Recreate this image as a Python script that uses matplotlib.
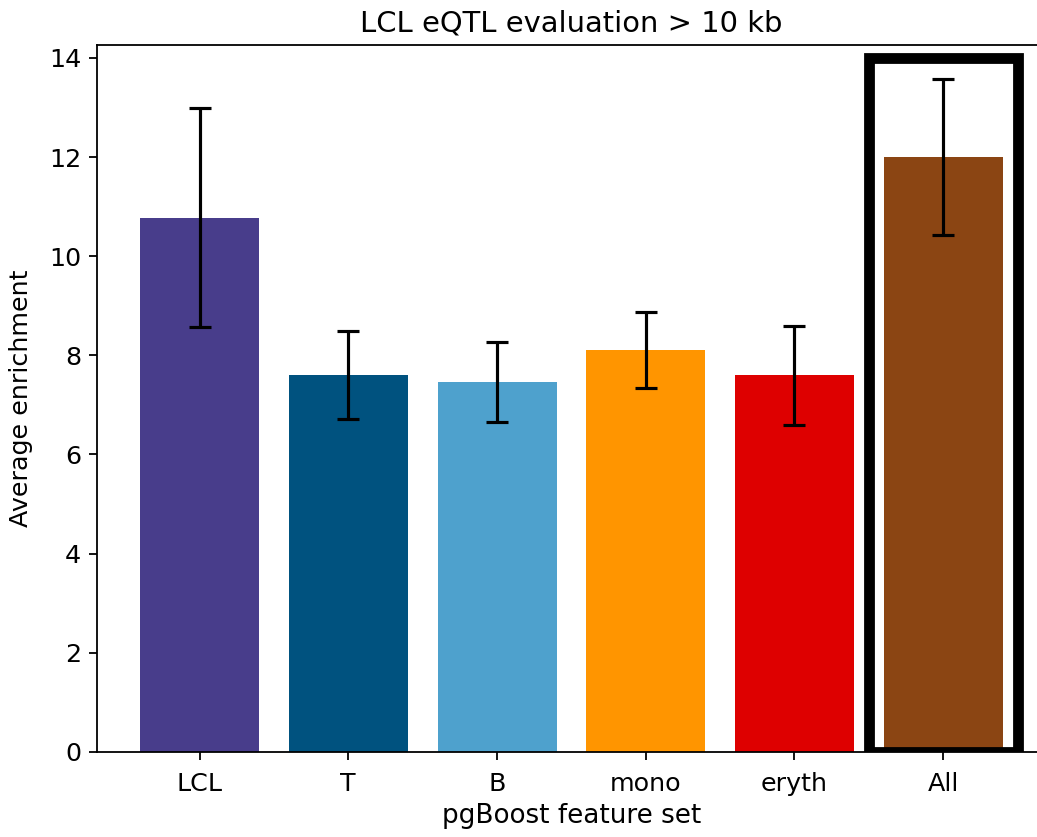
import numpy as np
import matplotlib
matplotlib.use("Agg")
import matplotlib.pyplot as plt
from matplotlib.patches import Rectangle

### data
feature_sets = ["LCL", "T", "B", "mono", "eryth", "All"]
enrichment = [10.78, 7.60, 7.46, 8.10, 7.60, 12.00]
err_low = [8.58, 6.72, 6.65, 7.35, 6.60, 10.42]
err_high = [12.98, 8.50, 8.27, 8.87, 8.60, 13.58]
colors = ["#483d8b", "#00527f", "#4ea1cd", "#ff9500", "#de0000", "#8b4513"]

plt.rcParams["font.size"] = 11.3

enrichment = np.array(enrichment)
yerr = np.array([enrichment - np.array(err_low), np.array(err_high) - enrichment])

fig = plt.figure(figsize=(1037 / 162, 837 / 162), dpi=162)
ax = fig.add_axes([0.0935, 0.1016, 0.915, 0.8446])

x = np.arange(len(feature_sets))
ax.bar(x, enrichment, width=0.8, color=colors, yerr=yerr,
       error_kw=dict(ecolor="black", elinewidth=1.4, capsize=4.7, capthick=1.4))

# highlight box round the combined model
ax.add_patch(Rectangle((x[-1] - 0.5, 0), 1.0, 14.0, fill=False,
                       edgecolor="black", linewidth=4.8, zorder=3))

ax.set_xticks(x)
ax.set_xticklabels(feature_sets)
ax.tick_params(axis="x", pad=5.5)
ax.set_xlim(-0.69, 5.69)
ax.set_ylim(0, 13.58 * 1.05)
ax.set_xlabel("pgBoost feature set", labelpad=3, fontsize=11.7)
ax.set_ylabel("Average enrichment", labelpad=7)
ax.set_title("LCL eQTL evaluation > 10 kb", fontsize=12.9)

fig.savefig("out.png", dpi=162)
